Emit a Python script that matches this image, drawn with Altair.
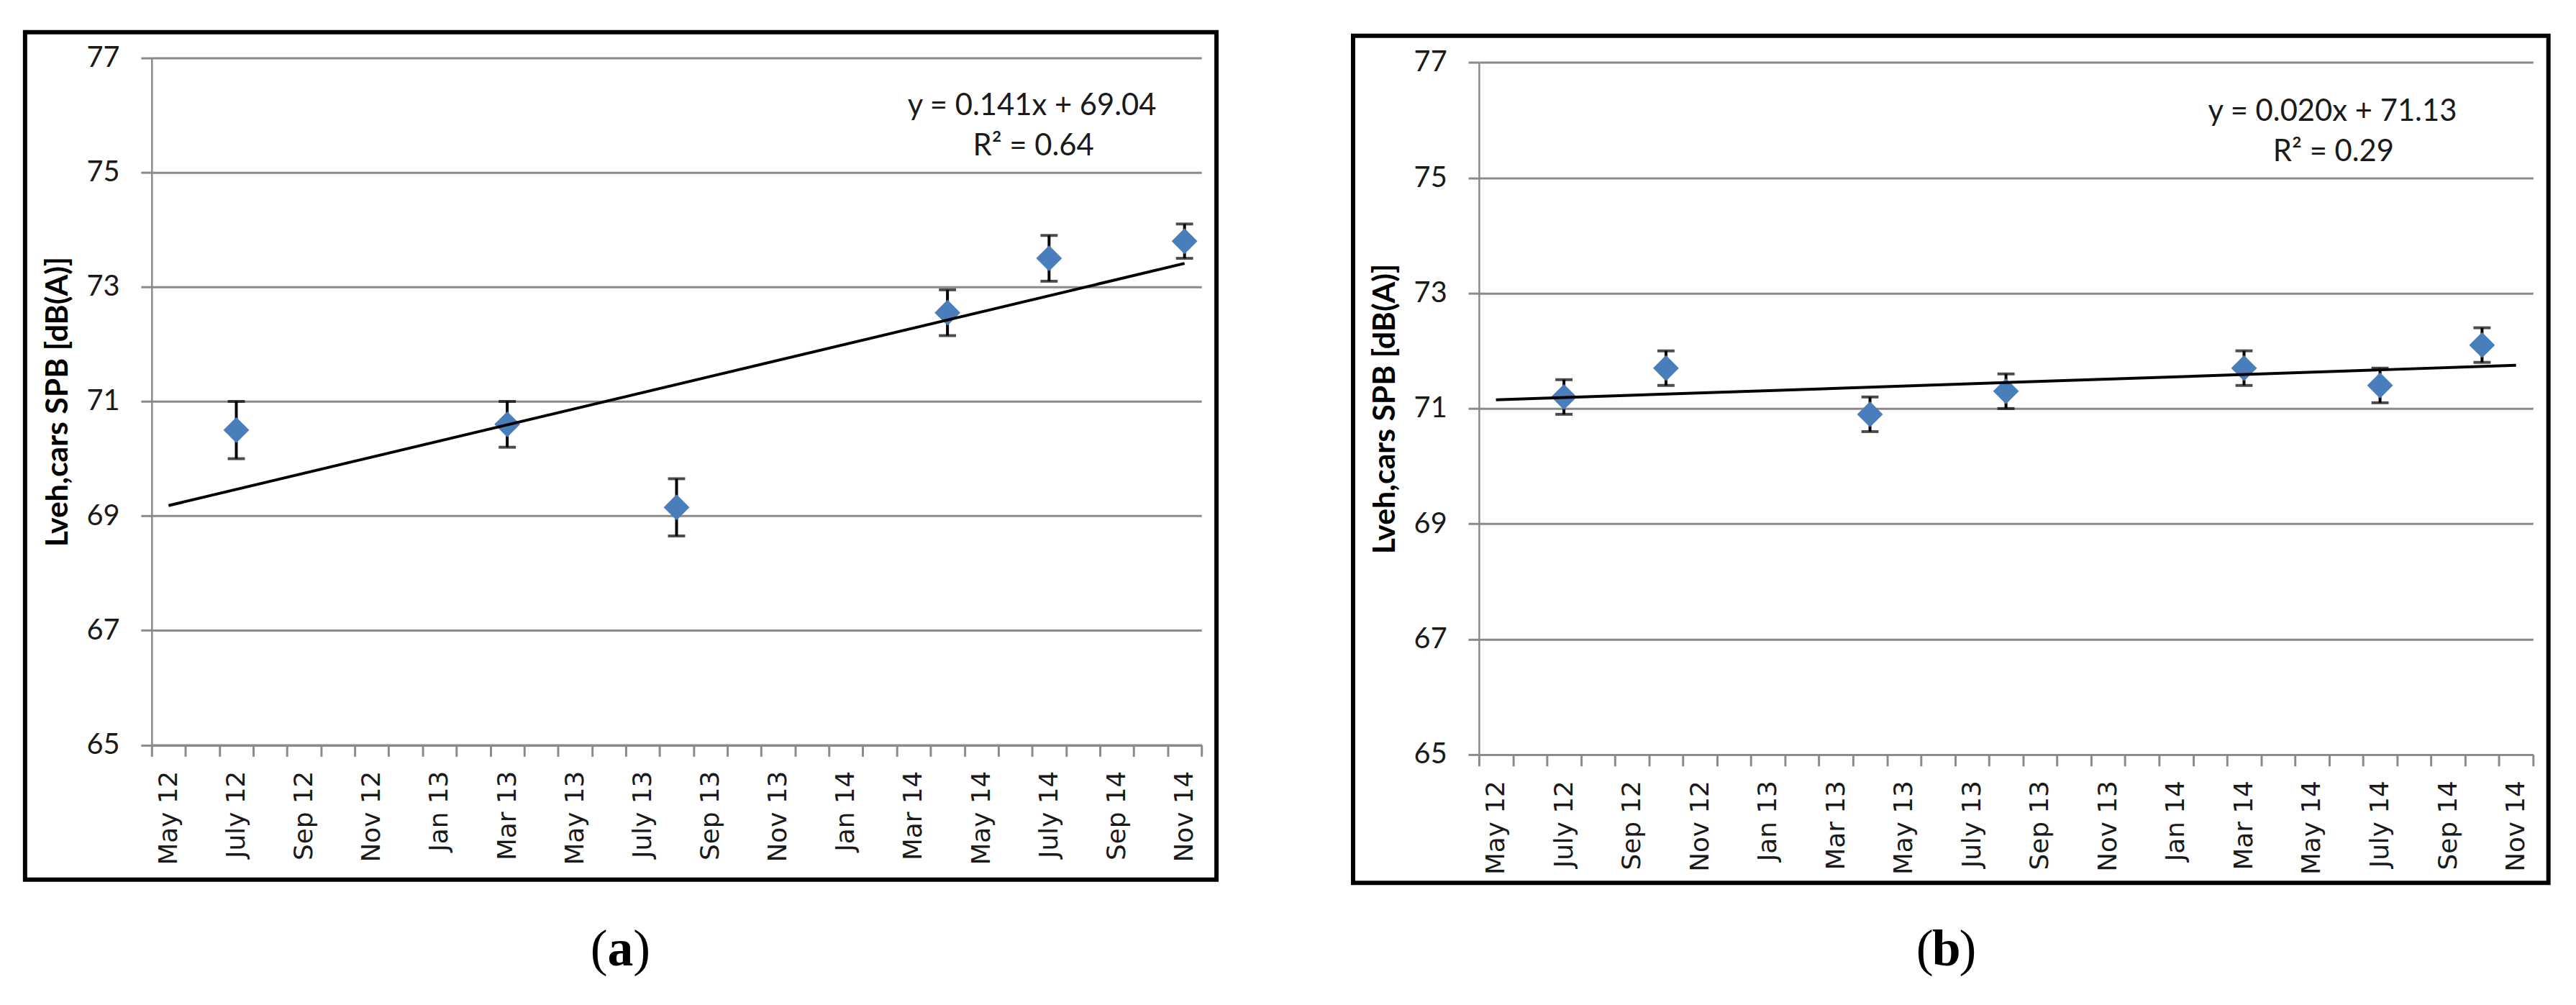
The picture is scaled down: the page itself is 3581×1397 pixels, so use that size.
import json
import altair as alt
import pandas as pd

# ---------------- data ----------------
tick_labels = ["May 12", "July 12", "Sep 12", "Nov 12", "Jan 13", "Mar 13", "May 13", "July 13",
               "Sep 13", "Nov 13", "Jan 14", "Mar 14", "May 14", "July 14", "Sep 14", "Nov 14"]
y_ticks = [65, 67, 69, 71, 73, 75, 77]

a_dates = ["2012-07", "2013-03", "2013-08", "2014-04", "2014-07", "2014-11"]
a_values = [70.50, 70.60, 69.15, 72.55, 73.50, 73.80]
a_errors = [0.50, 0.40, 0.50, 0.40, 0.40, 0.30]
a_slope, a_intercept = 0.141, 69.04
a_eq = ["y = 0.141x + 69.04", "R² = 0.64"]

b_dates = ["2012-07", "2012-10", "2013-04", "2013-08", "2014-03", "2014-07", "2014-10"]
b_values = [71.20, 71.70, 70.90, 71.30, 71.70, 71.40, 72.10]
b_errors = [0.30, 0.30, 0.30, 0.30, 0.30, 0.30, 0.30]
b_slope, b_intercept = 0.020, 71.13
b_eq = ["y = 0.020x + 71.13", "R² = 0.29"]

trend_x = [1, 31]  # equation x: months counted from May 12 (=1) to Nov 14 (=31)

BLUE = "#4a7ebb"
GRID = "#8a8a8a"
TXT = "#1a1a1a"


def slot_of(d):
    y, m = d.split("-")
    return (int(y) - 2012) * 12 + int(m) - 5 + 0.5


def one(**kw):
    return alt.Chart(alt.Data(values=[{}]))


def panel(dates, values, errors, slope, intercept, eq_lines, caption,
          plot_w, plot_h, y_top, frame, eq_pos, cap_x, cap_base):
    df = pd.DataFrame({"date": dates, "value": values, "err": errors})
    df["slot"] = [slot_of(d) for d in dates]
    df["lo"] = df["value"] - df["err"]
    df["hi"] = df["value"] + df["err"]
    trend = pd.DataFrame({"slot": [x - 0.5 for x in trend_x],
                          "value": [intercept + slope * x for x in trend_x]})

    half = plot_w / 31 / 2
    label_expr = ("datum.value % 2 == 0 && datum.value < 31 ? "
                  + json.dumps(tick_labels) + "[datum.value / 2] : ''")
    x_axis = alt.Axis(values=list(range(32)), labelExpr=label_expr, labelAngle=270,
                      labelOffset=half, labelPadding=20, labelFont="DejaVu Sans",
                      labelFontSize=36, labelColor=TXT, labelFlush=False, labelOverlap=False,
                      tickSize=16, tickWidth=3, tickColor=GRID, domainColor=GRID,
                      domainWidth=3, grid=False, title=None)
    y_axis = alt.Axis(values=y_ticks, grid=True, gridColor=GRID, gridWidth=3,
                      tickSize=15, tickWidth=3, tickColor=GRID, domainColor=GRID,
                      domainWidth=2.5, labelFont="Lato", labelFontSize=40, labelColor=TXT,
                      labelPadding=30, labelFlush=False,
                      title="Lveh,cars SPB [dB(A)]", titleFont="Lato", titleFontSize=43,
                      titleFontWeight="bold", titleColor="black", titlePadding=18)
    x_scale = alt.Scale(domain=[0, 31], nice=False, zero=False)
    y_scale = alt.Scale(domain=[65, 77], nice=False, zero=False, range=[plot_h, y_top])

    X = alt.X("slot:Q", scale=x_scale, axis=x_axis)
    Y = alt.Y("value:Q", scale=y_scale, axis=y_axis)

    base = alt.Chart(df)
    bars = base.mark_rule(color="black", strokeWidth=4).encode(
        x=X, y=alt.Y("lo:Q", scale=y_scale, axis=y_axis), y2="hi:Q")
    cap_lo = base.mark_tick(orient="horizontal", size=24, thickness=4, color="black").encode(
        x=X, y=alt.Y("lo:Q", scale=y_scale, axis=y_axis))
    cap_hi = base.mark_tick(orient="horizontal", size=24, thickness=4, color="black").encode(
        x=X, y=alt.Y("hi:Q", scale=y_scale, axis=y_axis))
    pts = base.mark_point(shape="diamond", filled=True, size=1300, color=BLUE, opacity=1).encode(
        x=X, y=Y)
    line = alt.Chart(trend).mark_line(color="black", strokeWidth=4).encode(x=X, y=Y)

    fx0, fx1, fy0, fy1 = frame
    box = one().mark_rect(filled=False, stroke="black", strokeWidth=6).encode(
        x=alt.value(fx0), x2=alt.value(fx1), y=alt.value(fy0), y2=alt.value(fy1))

    texts = []
    for (tx, ty), s in zip(eq_pos, eq_lines):
        texts.append(one().mark_text(font="Lato", fontSize=42, align="center",
                                     baseline="alphabetic", color=TXT).encode(
            x=alt.value(tx), y=alt.value(ty), text=alt.value(s)))

    cap_l = one().mark_text(font="Liberation Serif", fontSize=72, align="right",
                            baseline="alphabetic", color="black").encode(
        x=alt.value(cap_x - 18), y=alt.value(cap_base), text=alt.value("("))
    cap_m = one().mark_text(font="Liberation Serif", fontSize=72, fontWeight="bold",
                            align="center", baseline="alphabetic", color="black").encode(
        x=alt.value(cap_x), y=alt.value(cap_base), text=alt.value(caption))
    cap_r = one().mark_text(font="Liberation Serif", fontSize=72, align="left",
                            baseline="alphabetic", color="black").encode(
        x=alt.value(cap_x + 18), y=alt.value(cap_base), text=alt.value(")"))

    return alt.layer(box, bars, cap_lo, cap_hi, pts, line, *texts, cap_l, cap_m, cap_r).properties(
        width=plot_w, height=plot_h)


chart_a = panel(a_dates, a_values, a_errors, a_slope, a_intercept, a_eq, "a",
                plot_w=1468, plot_h=960.5, y_top=0,
                frame=(-177, 1489, -36, 1149),
                eq_pos=[(1231, 80), (1233, 136)], cap_x=655.5, cap_base=1269)
chart_b = panel(b_dates, b_values, b_errors, b_slope, b_intercept, b_eq, "b",
                plot_w=1474, plot_h=974, y_top=6.3,
                frame=(-176, 1495.5, -31, 1153.5),
                eq_pos=[(1193.5, 88), (1195, 144)], cap_x=653.5, cap_base=1269)

chart = alt.hconcat(chart_a, chart_b, spacing=167).properties(
    padding={"left": 24, "top": 30, "right": 10, "bottom": 10}
).configure_view(strokeWidth=0)

chart.save("out.html", embed_options={"renderer": "svg", "actions": False})
